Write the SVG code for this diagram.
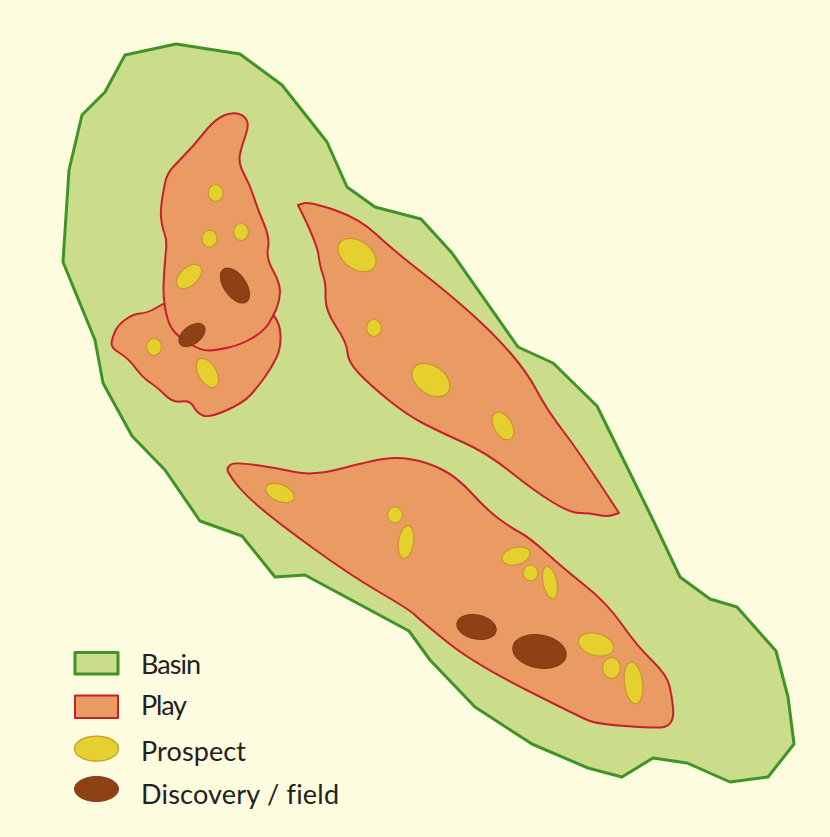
<svg xmlns="http://www.w3.org/2000/svg" width="830" height="837" viewBox="0 0 830 837">
<style>
.basin{fill:#cbdd8a;stroke:#3f9427;stroke-width:3;stroke-linejoin:round}
.play{fill:#e99b63;stroke:#c5202c;stroke-width:2;stroke-linejoin:round}
.prospect{fill:#e6d02f;stroke:#c9972b;stroke-width:1.2}
.field{fill:#8e4214;stroke:#7b3a12;stroke-width:1}
.label{font-family:"Lato","Liberation Sans",sans-serif;font-size:27px;fill:#222;font-variant-ligatures:none}
</style>
<rect width="830" height="837" fill="#fefcdf"/>
<g id="basin"><polygon class="basin" points="176,44 240,54 282,85 327,142 347,187 375,207 421,219 452,253 518,347 553,363 597,406 630,473 653,520 680,577 710,599 737,607 776,651 788,697 794,744 768,777 730,782 687,763 653,758 622,777 588,768 532,744 475,707 430,660 409,631 305,575 275,577 242,536 200,521 165,470 132,436 103,383 95,340 63,262 69,170 82,115 105,92 125,55"/></g>
<g id="play-west-lower"><path class="play" d="M163 304L155 308.500Q147 313 140 313.500Q133 314 125.500 319.500Q118 325 115 331.500Q112 338 111.500 343Q111 348 119.500 353Q128 358 135.500 368Q143 378 150 382.500Q157 387 165 395Q173 403 181.500 401.500Q190 400 193.500 406.500Q197 413 203 415.500Q209 418 226 410.500Q243 403 250 395.500Q257 388 264.500 377.500Q272 367 276.500 357.500Q281 348 280.500 335.500Q280 323 274 316Z"/></g>
<g id="play-west-upper"><path class="play" d="M225 115Q233 112 239 114Q245 116 247 121Q249 126 245.500 135.500Q242 145 240 154Q238 163 244 174Q250 185 254 197.500Q258 210 264 224Q270 238 268 248Q266 258 273 270.500Q280 283 280 291.500Q280 300 276.500 308.500Q273 317 268 324.500Q263 332 251.500 338.500Q240 345 228.500 347.500Q217 350 209.500 350.500Q202 351 191 344.500Q180 338 175 332.500Q170 327 167.500 318.500Q165 310 164 300Q163 290 164 275Q165 260 166 250Q167 240 164.500 233.500Q162 227 161 217Q160 207 165 183Q167 173 174 166L193 146L208 128Q217 118 225 115Z"/></g>
<g id="play-central"><path class="play" d="M298 205L305 203Q312 202 336 210.500Q360 219 376.500 234.500Q393 250 420 271Q447 292 470 312.500Q493 333 510 352.500Q527 372 537 391Q547 410 563.500 431.500Q580 453 619 513L613 515Q607 517 598.500 515Q590 513 580 513Q570 513 551.500 501.500Q533 490 510 471.500Q487 453 463.500 442.500Q440 432 423.500 423.500Q407 415 388.500 400Q370 385 359 373.500Q348 362 347.500 352.500Q347 343 336 326.500Q325 310 325.500 296.500Q326 283 323 275Q320 267 318.500 255Q317 243 298 205Z"/></g>
<g id="play-south"><path class="play" d="M227.500 470Q227 467 231 464.500Q235 462 256 465Q277 468 295 472Q313 476 341.500 468.500Q370 461 383.500 459Q397 457 412 459.500Q427 462 442 469.500Q457 477 472 493.500Q487 510 498.500 518.500Q510 527 520 532.500Q530 538 546.500 553Q563 568 585 585.500Q607 603 622 624.500Q637 646 652 660.500Q667 675 669.500 686Q672 697 673 707Q674 717 671 722Q668 727 660.500 727.500Q653 728 625 726Q597 724 588.500 720.500Q580 717 526.500 690Q473 663 446.500 641.500Q420 620 415 615Q410 610 380 592.500Q350 575 313.500 548.500Q277 522 260 507.500Q243 493 235.500 483Q228 473 227.500 470Z"/></g>
<g id="prospects">
<ellipse class="prospect" cx="215.700" cy="193" rx="7.500" ry="8.500"/>
<ellipse class="prospect" cx="209.500" cy="238.700" rx="7.500" ry="8.500"/>
<ellipse class="prospect" cx="241" cy="232" rx="7.500" ry="8.500"/>
<ellipse class="prospect" cx="189" cy="276.500" rx="15" ry="9" transform="rotate(-43 189 276.500)"/>
<ellipse class="prospect" cx="154" cy="347" rx="7.500" ry="8.500"/>
<ellipse class="prospect" cx="207.500" cy="373" rx="16" ry="9" transform="rotate(60 207.500 373)"/>
<ellipse class="prospect" cx="357" cy="255" rx="21" ry="14" transform="rotate(35 357 255)"/>
<ellipse class="prospect" cx="374" cy="328" rx="7.500" ry="8.500"/>
<ellipse class="prospect" cx="431" cy="380" rx="21" ry="14" transform="rotate(35 431 380)"/>
<ellipse class="prospect" cx="503" cy="426" rx="15" ry="9" transform="rotate(60 503 426)"/>
<ellipse class="prospect" cx="280" cy="493" rx="15" ry="8.500" transform="rotate(22 280 493)"/>
<ellipse class="prospect" cx="395" cy="515" rx="7.500" ry="8"/>
<ellipse class="prospect" cx="406" cy="542" rx="7.500" ry="16.500" transform="rotate(8 406 542)"/>
<ellipse class="prospect" cx="516" cy="556" rx="14.500" ry="8.500" transform="rotate(-15 516 556)"/>
<ellipse class="prospect" cx="530.500" cy="573" rx="7.500" ry="8"/>
<ellipse class="prospect" cx="550" cy="582.500" rx="7" ry="16.500" transform="rotate(-12 550 582.500)"/>
<ellipse class="prospect" cx="596" cy="644.500" rx="18" ry="11" transform="rotate(15 596 644.500)"/>
<ellipse class="prospect" cx="611.500" cy="668" rx="9" ry="10.500"/>
<ellipse class="prospect" cx="633.500" cy="683" rx="9" ry="21" transform="rotate(-7 633.500 683)"/>
</g>
<g id="fields">
<ellipse class="field" cx="235" cy="285.500" rx="20" ry="11" transform="rotate(55 235 285.500)"/>
<ellipse class="field" cx="192" cy="335" rx="15" ry="9" transform="rotate(-38 192 335)"/>
<ellipse class="field" cx="476.500" cy="627" rx="20" ry="12" transform="rotate(12 476.500 627)"/>
<ellipse class="field" cx="539.500" cy="651.500" rx="27" ry="16.500" transform="rotate(10 539.500 651.500)"/>
</g>
<g id="legend">
<rect class="basin" x="75" y="652.500" width="43" height="21.500"/>
<rect class="play" x="75" y="695.500" width="43" height="22.500"/>
<ellipse class="prospect" cx="96.500" cy="748.700" rx="22" ry="12.500"/>
<ellipse class="field" cx="96.500" cy="789" rx="22" ry="12.500"/>
<text class="label" x="141" y="673.500" textLength="60">Basin</text>
<text class="label" x="141" y="715" textLength="46">Play</text>
<text class="label" x="141" y="760.500" textLength="105">Prospect</text>
<text class="label" x="141" y="804" textLength="198">Discovery / field</text>
</g>
</svg>
